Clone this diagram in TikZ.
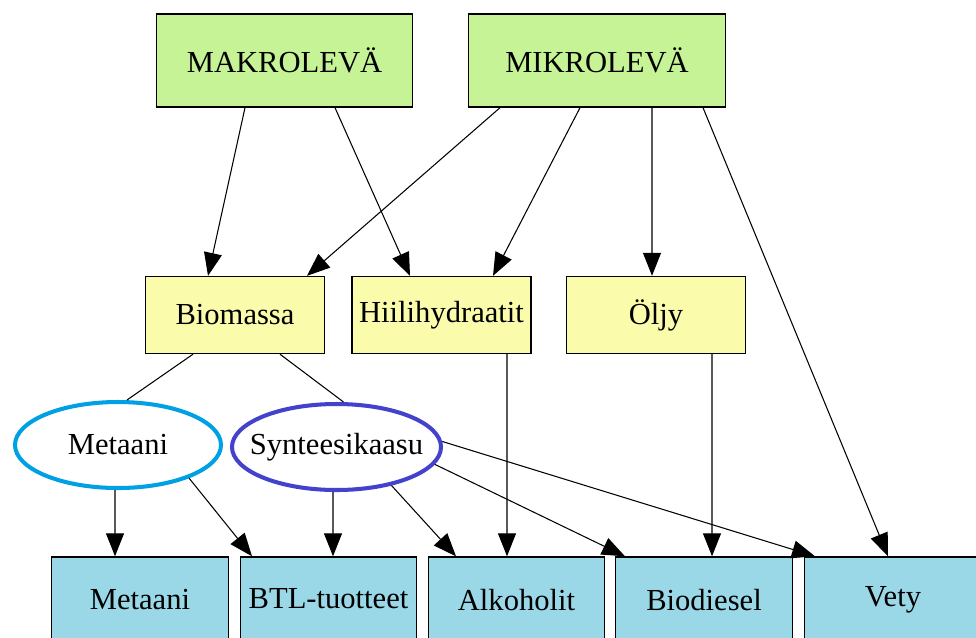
\documentclass[tikz,border=0pt]{standalone}
\usepackage{fontspec}
\setmainfont{Liberation Serif}
\usetikzlibrary{shapes.geometric,arrows.meta}
\definecolor{levagreen}{RGB}{198,243,150}
\definecolor{raakayellow}{RGB}{250,252,172}
\definecolor{tuoteblue}{RGB}{154,216,232}
\definecolor{metaaniring}{RGB}{0,160,228}
\definecolor{synteesiring}{RGB}{66,66,204}
\begin{document}
\begin{tikzpicture}[x=0.2mm, y=-0.2mm, >={Triangle[width=3.6mm,length=4.6mm]}, line width=0.6pt,
    every node/.style={font=\fontsize{17.4}{20}\selectfont, inner sep=0pt},
    levabox/.style={draw, line width=0.8pt, fill=levagreen, minimum width=51.3mm, minimum height=18.6mm},
    raakabox/.style={draw, line width=0.8pt, fill=raakayellow, minimum width=35.8mm, minimum height=15.4mm},
    tuotebox/.style={draw, line width=0.8pt, fill=tuoteblue, minimum width=35.3mm, minimum height=17.2mm},
    kaasuring/.style={ellipse, line width=2.3pt, minimum height=17.2mm}]
    \useasboundingbox (0,0) rectangle (976,637);

    % Top part (levat)
    \node[levabox] (makro) at (284.5,60.5) {MAKROLEVÄ};
    \node[levabox] (mikro) at (597,60.5) {MIKROLEVÄ};

    % Middle part (raaka-aineet)
    \node[raakabox] (biomassa) at (235,315) {Biomassa};
    \node[raakabox] (hiili) at (441.5,315) {Hiilihydraatit};
    \node[raakabox] (oljy) at (656,315) {Öljy};

    % Kaasut
    \node[kaasuring, draw=metaaniring, minimum width=41.2mm] (metaani) at (118,445) {\makebox[0pt]{Metaani}};
    \node[kaasuring, draw=synteesiring, minimum width=41.8mm] (synteesi) at (336.5,447) {\makebox[0pt]{Synteesikaasu}};

    % Bottom part (tuotteet)
    \node[tuotebox] (metaanit) at (140,600) {Metaani};
    \node[tuotebox] (btl) at (328.5,600) {\raisebox{0.5mm}{BTL-tuotteet}};
    \node[tuotebox] (alkoholit) at (516.5,600) {Alkoholit};
    \node[tuotebox] (biodiesel) at (704,600) {Biodiesel};
    \node[tuotebox] (vety) at (893,600) {Vety};

    % Levista raaka-aineisiin
    \draw[->] ([xshift=-7.9mm]makro.south) -- ([xshift=-5.4mm]biomassa.north);
    \draw[->] ([xshift=10.1mm]makro.south) -- ([xshift=-6.3mm]hiili.north);
    \draw[->] ([xshift=-19.4mm]mikro.south) -- ([xshift=14.4mm]biomassa.north);
    \draw[->] ([xshift=-3.4mm]mikro.south) -- ([xshift=10.3mm]hiili.north);
    \draw[->] ([xshift=11mm]mikro.south) -- ([xshift=-0.8mm]oljy.north);
    \draw[->] ([xshift=21.2mm]mikro.south) -- ([xshift=-1mm]vety.north);

    % Biomassasta kaasuiksi
    \draw ([xshift=-8.4mm]biomassa.south) -- ([xshift=1.8mm]metaani.north);
    \draw ([xshift=9mm]biomassa.south) -- ([xshift=1.4mm]synteesi.north);

    % Tuotteisiin
    \draw[->] ([xshift=-0.6mm]metaani.south) -- ([xshift=-5mm]metaanit.north);
    \draw[->] (metaani.-25) -- ([xshift=-15.3mm]btl.north);
    \draw[->] ([xshift=-0.7mm]synteesi.south) -- ([xshift=0.9mm]btl.north);
    \draw[->] (synteesi.-35) -- ([xshift=-12.1mm]alkoholit.north);
    \draw[->] (synteesi.-10) -- ([xshift=-15.8mm]biodiesel.north);
    \draw[->] (synteesi.3) -- ([xshift=-15.6mm]vety.north);
    \draw[->] ([xshift=13.1mm]hiili.south) -- ([xshift=-1.9mm]alkoholit.north);
    \draw[->] ([xshift=11.2mm]oljy.south) -- ([xshift=1.6mm]biodiesel.north);
\end{tikzpicture}
\end{document}
